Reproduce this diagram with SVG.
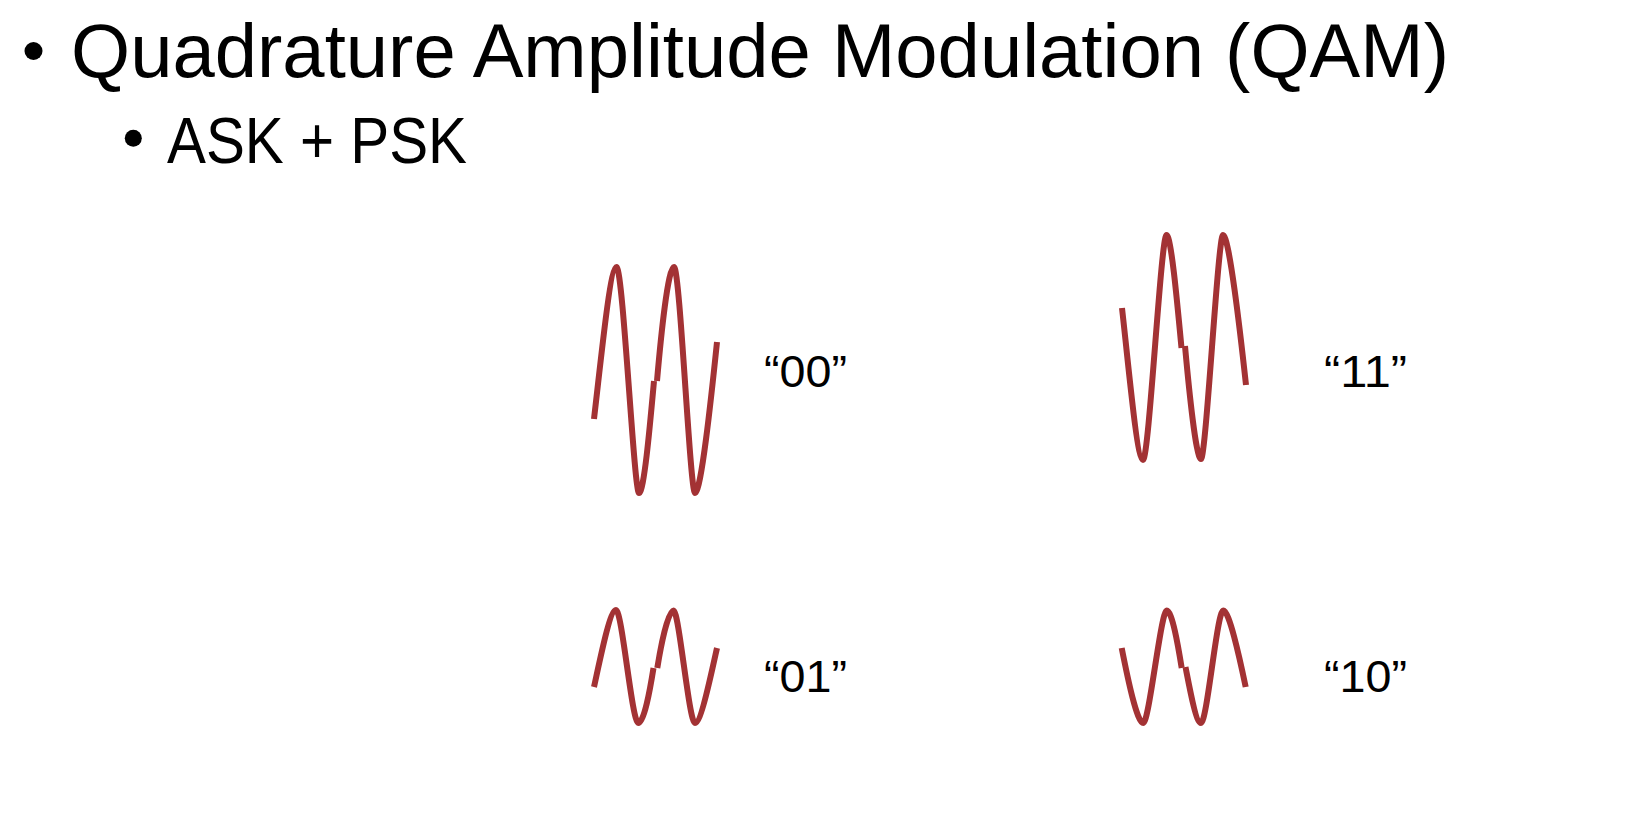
<svg xmlns="http://www.w3.org/2000/svg" width="1652" height="830" viewBox="0 0 1652 830">
<style>
  .txt { font-family: "Liberation Sans", Arial, sans-serif; fill: #000; }
  .wave { fill: none; stroke: #A33234; stroke-width: 6; stroke-linecap: butt; stroke-linejoin: round; }
</style>
<rect width="1652" height="830" fill="#fff"/>
<g id="title">
  <circle cx="33.5" cy="51" r="9" fill="#000"/>
  <text class="txt" x="71" y="77.3" font-size="75.5" textLength="1378" lengthAdjust="spacingAndGlyphs">Quadrature Amplitude Modulation (QAM)</text>
</g>
<g id="subtitle">
  <circle cx="133.3" cy="138.3" r="8.5" fill="#000"/>
  <text class="txt" x="167" y="162.7" font-size="64" textLength="300" lengthAdjust="spacingAndGlyphs">ASK + PSK</text>
</g>
<g id="wave-00">
  <path class="wave" d="M594,419 C601,360 610,267 616.5,267 C623,267 634,493 639,493 C644,493 650,425 654,381"/>
  <path class="wave" d="M657,381 C661,335 668,267 674,267 C680,267 690,493 695,493 C701,493 711,400 717,342"/>
  <text class="txt" x="764" y="386.7" font-size="44" textLength="83" lengthAdjust="spacingAndGlyphs">“00”</text>
</g>
<g id="wave-11">
  <path class="wave" d="M1122,308 C1129,370 1137,460 1143,460 C1149,460 1161,235 1166.5,235 C1171,235 1177,300 1181.5,348"/>
  <path class="wave" d="M1185,346 C1189,390 1196,459 1201,459 C1206,459 1218,235 1223,235 C1229,235 1240,330 1246,385"/>
  <text class="txt" x="1324" y="386.7" font-size="44" textLength="83" lengthAdjust="spacingAndGlyphs">“11”</text>
</g>
<g id="wave-01">
  <path class="wave" d="M594,687 C601,655 610,610 616,610 C622,610 632,723 638.3,723 C644,723 650,690 653.5,668"/>
  <path class="wave" d="M657.3,668 C661,645 668,610.5 673.5,610.5 C679,610.5 689,723 695,723 C701,723 711,675 717,648"/>
  <text class="txt" x="764" y="692.3" font-size="44" textLength="83" lengthAdjust="spacingAndGlyphs">“01”</text>
</g>
<g id="wave-10">
  <path class="wave" d="M1121.7,648 C1128,680 1137,723 1143.3,723 C1149,723 1161,610.5 1166.7,610.5 C1172,610.5 1178,645 1181.7,668"/>
  <path class="wave" d="M1185.5,667 C1190,690 1196,723 1201,723 C1207,723 1217,610.5 1223.3,610.5 C1229,610.5 1239,655 1245.7,687"/>
  <text class="txt" x="1324" y="692.3" font-size="44" textLength="83" lengthAdjust="spacingAndGlyphs">“10”</text>
</g>
<g id="connectors"></g>
</svg>
